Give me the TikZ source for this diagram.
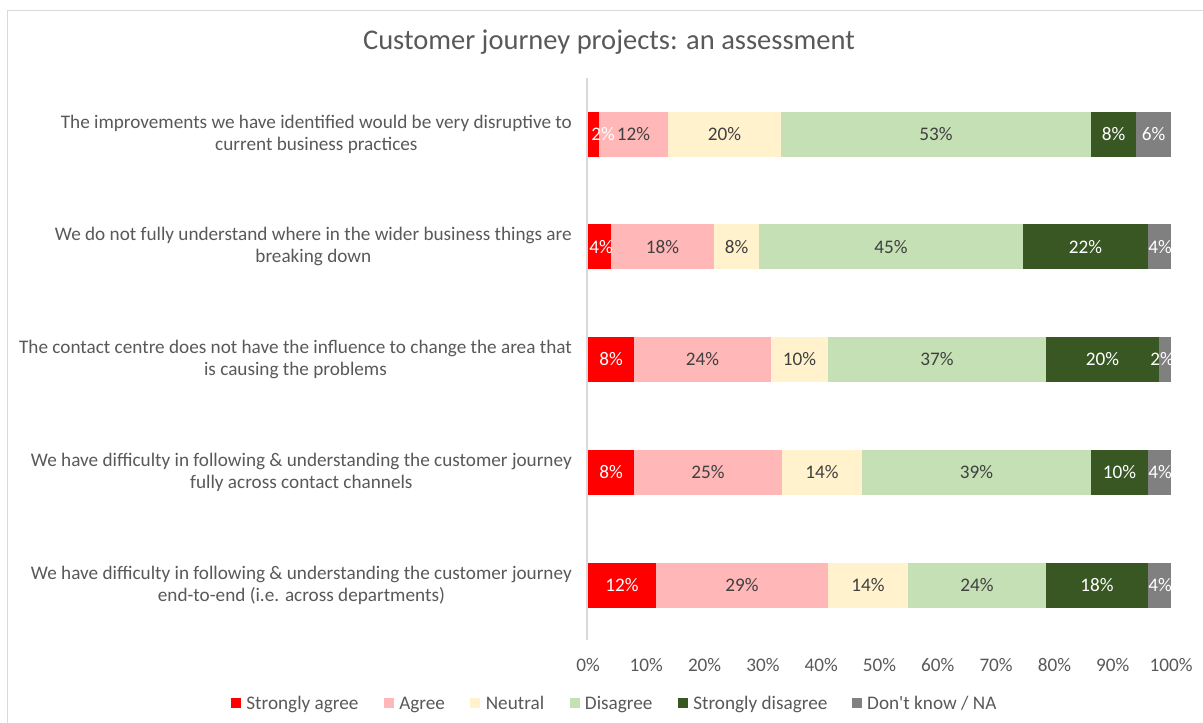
\documentclass[tikz,border=0pt]{standalone}
\usepackage{fontspec}
\setmainfont{Carlito}[Ligatures=TeXOff]
\usetikzlibrary{positioning}

\definecolor{sagree}{HTML}{FF0000}
\definecolor{agree}{HTML}{FFB7B7}
\definecolor{neutral}{HTML}{FFF2CC}
\definecolor{disagree}{HTML}{C5E0B4}
\definecolor{sdisagree}{HTML}{385723}
\definecolor{dknow}{HTML}{808080}
\definecolor{lbl}{HTML}{404040}
\definecolor{txtgrey}{HTML}{595959}
\definecolor{rule}{HTML}{D9D9D9}

\tikzset{
  question/.style={anchor=east, align=center, text=txtgrey, inner sep=0pt,
    font=\fontsize{19.2}{22}\selectfont},
  val/.style={inner sep=0pt, font=\fontsize{19.2}{22}\selectfont},
  tick/.style={text=txtgrey, inner sep=0pt, font=\fontsize{19.2}{22}\selectfont},
  key/.style={minimum size=10pt, inner sep=0pt},
  keytext/.style={anchor=west, text=txtgrey, inner sep=0pt, right=5pt of #1,
    text height=14pt, text depth=0pt, font=\fontsize{19.2}{22}\selectfont},
}

\begin{document}
\begin{tikzpicture}[x=1pt, y=-1pt]
      \useasboundingbox (0,0) rectangle (1203,723);
      \fill[white] (0,0) rectangle (1203,723);
      \draw[rule, line width=1.5pt] (7.5,724) -- (7.5,10.5) -- (1204,10.5);

      \node[text=txtgrey, font=\fontsize{28.5}{32}\selectfont] (title) at (609,42) {Customer journey projects: an assessment};

      % questions
      \node[question] (q1) at (572,134){The improvements we have identified would be very disruptive to\\current business practices};
      \node[question] (q2) at (572,246.75){We do not fully understand where in the wider business things are\\breaking down};
      \node[question] (q3) at (572,359.5){The contact centre does not have the influence to change the area that\\is causing the problems};
      \node[question] (q4) at (572,472.25){We have difficulty in following \& understanding the customer journey\\fully across contact channels};
      \node[question] (q5) at (572,585){We have difficulty in following \& understanding the customer journey\\end-to-end (i.e. across departments)};

      % bars: segments as start/end/label x/colour/text colour/value
      \def\rowa{588/599/603/sagree/white/2, 599/668/633.5/agree/lbl/12, 668/781/724.5/neutral/lbl/20,
        781/1091/936/disagree/lbl/53, 1091/1136/1113.5/sdisagree/white/8, 1136/1171/1153.5/dknow/white/6}
      \def\rowb{588/611/601/sagree/white/4, 611/714/662.5/agree/lbl/18, 714/759/736.5/neutral/lbl/8,
        759/1023/891/disagree/lbl/45, 1023/1148/1085.5/sdisagree/white/22, 1148/1171/1160/dknow/white/4}
      \def\rowc{588/634/611/sagree/white/8, 634/771/702.5/agree/lbl/24, 771/828/799.5/neutral/lbl/10,
        828/1046/937/disagree/lbl/37, 1046/1159/1102.5/sdisagree/white/20, 1159/1171/1162/dknow/white/2}
      \def\rowd{588/634/611/sagree/white/8, 634/782/708/agree/lbl/25, 782/862/822/neutral/lbl/14,
        862/1091/976.5/disagree/lbl/39, 1091/1148/1119.5/sdisagree/white/10, 1148/1171/1160/dknow/white/4}
      \def\rowe{588/656/622/sagree/white/12, 656/828/742/agree/lbl/29, 828/908/868/neutral/lbl/14,
        908/1046/977/disagree/lbl/24, 1046/1148/1097/sdisagree/white/18, 1148/1171/1160/dknow/white/4}
      \begin{scope}
        \clip (588,80) rectangle (1172,640);
        \foreach \r/\y in {a/134, b/246.75, c/359.5, d/472.25, e/585}{
          \edef\segs{\csname row\r\endcsname}
          \foreach \xa/\xb/\lx/\col/\tc/\v in \segs
            \fill[\col] (\xa,\y-22.5) rectangle (\xb,\y+22.5);
          \foreach \xa/\xb/\lx/\col/\tc/\v [count=\i] in \segs
            \node[val, text=\tc] (\r\i) at (\lx,\y) {\v\%};
        }
      \end{scope}

      % axis
      \draw[rule, line width=1.5pt] (587,78) -- (587,640);
      \foreach \k in {0,...,10}
        \node[tick] (t\k) at ({588+58.3*\k},665) {\the\numexpr\k*10\relax\%};

      % legend
      \node[key, fill=sagree] (k1) at (236,702.5) {};
      \node[keytext=k1] (l1) {Strongly agree};
      \node[key, fill=agree, right=25pt of l1] (k2) {};
      \node[keytext=k2] (l2) {Agree};
      \node[key, fill=neutral, right=25pt of l2] (k3) {};
      \node[keytext=k3] (l3) {Neutral};
      \node[key, fill=disagree, right=25pt of l3] (k4) {};
      \node[keytext=k4] (l4) {Disagree};
      \node[key, fill=sdisagree, right=25pt of l4] (k5) {};
      \node[keytext=k5] (l5) {Strongly disagree};
      \node[key, fill=dknow, right=24pt of l5] (k6) {};
      \node[keytext=k6] (l6) {Don't know / NA};
\end{tikzpicture}
\end{document}
